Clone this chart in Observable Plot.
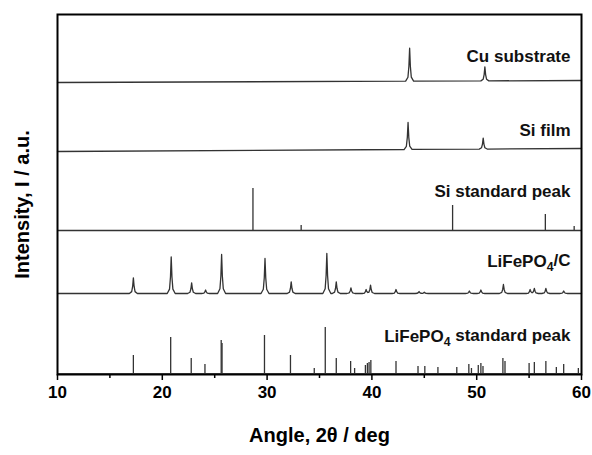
<!DOCTYPE html>
<html><head><meta charset="utf-8">
<script src="https://cdn.jsdelivr.net/npm/d3@7"></script>
<script src="https://cdn.jsdelivr.net/npm/@observablehq/plot@0.6"></script>
<style>
body{margin:0;background:#fff;}
svg{font-family:"Liberation Sans",Arial,sans-serif;}
</style>
</head><body><div id="chart"></div>
<script>
// ---- data ----
const angleTicks = [10, 20, 30, 40, 50, 60];
const minorTicks = [15, 25, 35, 45, 55];

const seriesNames = ["Cu substrate", "Si film", "Si standard peak", "LiFePO4/C", "LiFePO4 standard peak"];
// baseline of each stacked pattern (arbitrary intensity units), at 10° and 60°
const baseStart = [292, 223, 144, 81, 1];
const baseEnd   = [294, 226, 144, 81, 1];

// measured patterns: peak positions (2θ) and heights
const cuPeaks = [43.6, 50.78];
const cuHeights = [33, 14];
const siFilmPeaks = [43.45, 50.62];
const siFilmHeights = [27, 11];
const lfpcPeaks   = [17.24, 20.85, 22.8, 24.13, 25.66, 29.8, 32.3, 35.7, 36.6, 38.0, 39.45, 39.87, 42.3, 44.5, 45.0, 49.3, 50.4, 52.55, 55.1, 55.5, 56.6, 58.3];
const lfpcHeights = [15.6, 36.6, 10.6, 3.5, 39, 35, 11.7, 40, 11.7, 5.7, 4, 8.3, 4, 2, 1.2, 2.5, 3.5, 9, 4, 5, 5, 2.5];

// reference (stick) patterns
const siStdPeaks = [28.65, 33.25, 47.7, 56.55, 59.3];
const siStdHeights = [42, 5, 25, 16, 4];
const lfpStdPeaks = [17.24, 20.8, 22.76, 24.07, 25.62, 25.7, 29.75, 32.23, 34.5, 35.55, 36.6, 37.97, 38.35, 39.38, 39.57, 39.73, 39.9, 42.3, 44.4, 45.05, 46.3, 48.1, 49.25, 49.5, 50.15, 50.4, 50.6, 52.5, 52.7, 55.0, 55.5, 56.6, 57.6, 58.3, 59.7];
const lfpStdHeights = [18, 36, 15, 9, 33, 30, 38, 18, 5, 46, 15, 12, 5, 8, 10, 11, 13, 12, 7, 7, 6, 6, 9, 5, 8, 10, 7, 15, 12, 10, 11, 12, 6, 9, 5];

// label anchors (intensity units)
const labelY = [317.5, 244, 182.5, 112.5, 37.5];

// ---- build tables ----
const halfOff = [0, 0.07, 0.16, 0.38];
const halfFrac = [1, 0.45, 0.12, 0];
function profile(d) {
  d = Math.abs(d);
  if (d >= halfOff[3]) return 0;
  for (let k = 0; k < 3; k++) {
    if (d <= halfOff[k + 1]) {
      const t = (d - halfOff[k]) / (halfOff[k + 1] - halfOff[k]);
      return halfFrac[k] + t * (halfFrac[k + 1] - halfFrac[k]);
    }
  }
  return 0;
}
function pattern(peaks, heights, i) {
  const xs = new Set([10, 60]);
  peaks.forEach(p => [-0.38, -0.16, -0.07, 0, 0.07, 0.16, 0.38].forEach(o => xs.add(+(p + o).toFixed(3))));
  return [...xs].filter(x => x >= 10 && x <= 60).sort((a, b) => a - b).map(x => {
    let h = 0;
    peaks.forEach((p, j) => { h += heights[j] * profile(x - p); });
    return {series: seriesNames[i], angle: x, intensity: baseStart[i] + (baseEnd[i] - baseStart[i]) * (x - 10) / 50 + h};
  });
}
const lines = [
  ...pattern(cuPeaks, cuHeights, 0),
  ...pattern(siFilmPeaks, siFilmHeights, 1),
  ...pattern(lfpcPeaks, lfpcHeights, 3)
];
const sticks = [
  ...siStdPeaks.map((p, j) => ({angle: p, y1: baseStart[2], y2: baseStart[2] + siStdHeights[j]})),
  ...lfpStdPeaks.map((p, j) => ({angle: p, y1: baseStart[4], y2: baseStart[4] + lfpStdHeights[j]}))
];
const labels = seriesNames.map((s, i) => ({text: s, y: labelY[i]}));

const chart = Plot.plot({
  width: 592,
  height: 455,
  marginLeft: 57,
  marginRight: 11,
  marginTop: 14,
  marginBottom: 81,
  style: {fontFamily: "'Liberation Sans', Arial, sans-serif", fontSize: "17px", fontWeight: "bold", color: "#000", background: "#fff"},
  x: {domain: [10, 60]},
  y: {domain: [0, 360], axis: null},
  marks: [
    Plot.ruleY([baseStart[2]], {stroke: "#333", strokeWidth: 1.3}),
    Plot.ruleY([baseStart[4]], {stroke: "#555", strokeWidth: 1}),
    Plot.ruleX(sticks, {x: "angle", y1: "y1", y2: "y2", stroke: "#333", strokeWidth: 1.3}),
    Plot.line(lines, {x: "angle", y: "intensity", z: "series", stroke: "#333", strokeWidth: 1.3, curve: "linear"}),
    Plot.text(labels, {y: "y", text: "text", frameAnchor: "right", dx: -11, textAnchor: "end", fontSize: 17, fontWeight: "bold", fill: "#111"}),
    Plot.axisX({ticks: angleTicks, tickSize: 6, tickPadding: 5, tickFormat: d => String(d), label: null, fontSize: 17, fontWeight: "bold", stroke: "#000", strokeWidth: 1.5}),
    Plot.axisX({ticks: minorTicks, tickSize: 4, tickFormat: () => "", label: null, stroke: "#000", strokeWidth: 1.5}),
    Plot.text(["Angle, 2θ / deg"], {frameAnchor: "bottom", dy: 67, fontSize: 20, fontWeight: "bold", fill: "#000"}),
    Plot.text(["Intensity, I / a.u."], {frameAnchor: "left", dx: -35, dy: 10, rotate: -90, textAnchor: "middle", fontSize: 20, fontWeight: "bold", fill: "#000"}),
    Plot.frame({stroke: "#000", strokeWidth: 2})
  ]
});
document.getElementById("chart").appendChild(chart);

// subscript the "4" in LiFePO4
d3.select(chart).selectAll("text").each(function() {
  const t = this.textContent;
  const i = t.indexOf("LiFePO4");
  if (i < 0 || this.childElementCount > 0) return;
  const sel = d3.select(this);
  sel.text(null);
  sel.append("tspan").text(t.slice(0, i + 6));
  sel.append("tspan").attr("dy", "0.3em").attr("font-size", "0.72em").text("4");
  sel.append("tspan").attr("dy", "-0.3em").text(t.slice(i + 7));
});
</script>
</body></html>
